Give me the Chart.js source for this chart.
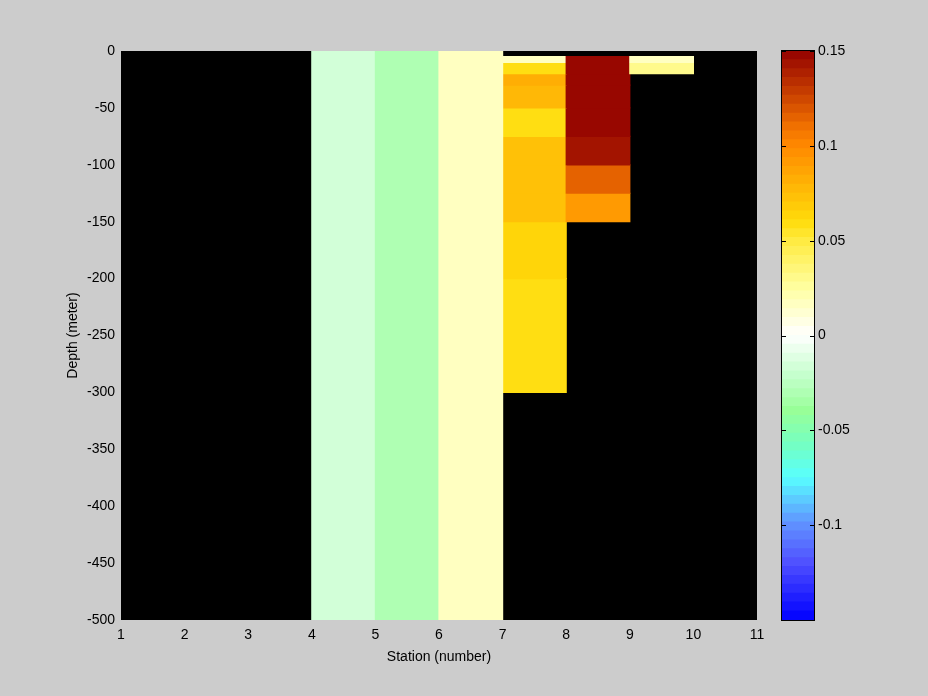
<!DOCTYPE html>
<html lang="en">
<head>
  <meta charset="UTF-8" />
  <title>Station depth section</title>
  <script src="https://cdn.jsdelivr.net/npm/chart.js@4.4.0/dist/chart.umd.min.js"></script>
  <style>
    html, body { margin: 0; padding: 0; background: #cccccc; }
    #wrap { position: relative; width: 928px; height: 696px; overflow: hidden; }
    #main { position: absolute; left: 0; top: 0; }
    #cbar { position: absolute; left: 770px; top: 0; }
  </style>
</head>
<body>
  <div id="wrap">
    <canvas id="main" width="928" height="696"></canvas>
    <canvas id="cbar" width="158" height="696"></canvas>
  </div>

  <script>
    // --- data ---------------------------------------------------------
    const stationTicks = [1, 2, 3, 4, 5, 6, 7, 8, 9, 10, 11];
    const columns = ['1-2', '2-3', '3-4', '4-5', '5-6', '6-7', '7-8', '8-9', '9-10', '10-11'];

    // depth layers in meters (positive down)
    const layerTop    = [0,   5,  10, 20, 30, 50, 75,  100, 125, 150, 200];
    const layerBottom = [500, 10, 20, 30, 50, 75, 100, 125, 150, 200, 300];

    // value per column for each layer (null = no data)
    const layer0to500   = [null, null, null, -0.015, -0.032, 0.017, null, null, null, null];
    const layer5to10    = [null, null, null, null, null, null, 0.015, 0.148, 0.015, null];
    const layer10to20   = [null, null, null, null, null, null, 0.057, 0.148, 0.031, null];
    const layer20to30   = [null, null, null, null, null, null, 0.082, 0.148, null, null];
    const layer30to50   = [null, null, null, null, null, null, 0.078, 0.148, null, null];
    const layer50to75   = [null, null, null, null, null, null, 0.057, 0.148, null, null];
    const layer75to100  = [null, null, null, null, null, null, 0.073, 0.142, null, null];
    const layer100to125 = [null, null, null, null, null, null, 0.073, 0.115, null, null];
    const layer125to150 = [null, null, null, null, null, null, 0.073, 0.090, null, null];
    const layer150to200 = [null, null, null, null, null, null, 0.064, null, null, null];
    const layer200to300 = [null, null, null, null, null, null, 0.059, null, null, null];
    const layers = [layer0to500, layer5to10, layer10to20, layer20to30, layer30to50, layer50to75,
                    layer75to100, layer100to125, layer125to150, layer150to200, layer200to300];

    // colour scale
    const cmin = -0.15, cmax = 0.15, nLevels = 64;
    const colorbarTicks = [-0.1, -0.05, 0, 0.05, 0.1, 0.15];
    const cmapValues = [-0.15, -0.12, -0.10, -0.075, -0.06, -0.04, -0.02, 0, 0.025, 0.05, 0.06, 0.10, 0.11, 0.15];
    const cmapColors = [[0, 0, 255], [80, 80, 255], [96, 144, 255], [88, 255, 255], [112, 255, 200],
                        [152, 255, 152], [200, 255, 208], [255, 255, 255], [255, 255, 160], [255, 234, 64],
                        [255, 220, 10], [255, 136, 0], [240, 112, 0], [146, 0, 0]];

    // --- colour helpers -------------------------------------------------
    function interpColor(v) {
      let i = 0;
      while (i < cmapValues.length - 2 && v > cmapValues[i + 1]) i++;
      const t = Math.min(1, Math.max(0, (v - cmapValues[i]) / (cmapValues[i + 1] - cmapValues[i])));
      const a = cmapColors[i], b = cmapColors[i + 1];
      const c = a.map((x, k) => Math.round(x + (b[k] - x) * t));
      return `rgb(${c[0]},${c[1]},${c[2]})`;
    }
    const step = (cmax - cmin) / nLevels;
    function levelOf(v) {
      return Math.min(nLevels - 1, Math.max(0, Math.floor((v - cmin) / step)));
    }
    function colorFor(v) {
      return interpColor(cmin + (levelOf(v) + 0.5) * step);
    }

    Chart.defaults.font.family = '"Liberation Sans", Arial, sans-serif';
    Chart.defaults.font.size = 14;
    Chart.defaults.color = '#000';

    const plotBg = {
      id: 'plotBg',
      beforeDatasetsDraw(chart) {
        const { ctx, chartArea: a } = chart;
        ctx.save();
        ctx.fillStyle = '#000';
        ctx.fillRect(a.left, a.top, a.width, a.height);
        ctx.restore();
      }
    };

    const barStyle = {
      grouped: false,
      barPercentage: 1,
      categoryPercentage: 1,
      inflateAmount: 0.6,
      borderWidth: 0
    };

    // --- main section plot ---------------------------------------------
    new Chart(document.getElementById('main'), {
      type: 'bar',
      data: {
        labels: columns,
        datasets: layers.map((vals, i) => ({
          ...barStyle,
          label: `${layerTop[i]}-${layerBottom[i]} m`,
          data: vals.map(v => v === null ? null : [-layerTop[i], -layerBottom[i]]),
          backgroundColor: vals.map(v => v === null ? 'rgba(0,0,0,0)' : colorFor(v)),
          xAxisID: 'x',
          yAxisID: 'y'
        }))
      },
      options: {
        responsive: false,
        animation: false,
        layout: { padding: { left: 50, top: 51, right: 171, bottom: 0 } },
        plugins: { legend: { display: false }, tooltip: { enabled: false } },
        scales: {
          x: { type: 'category', display: false, offset: true },
          x2: {
            type: 'linear',
            position: 'bottom',
            offset: false,
            min: stationTicks[0],
            max: stationTicks[stationTicks.length - 1],
            ticks: { stepSize: 1, padding: 7 },
            grid: { display: false, drawTicks: false, offset: false },
            border: { display: false },
            title: { display: true, text: 'Station (number)', padding: { top: 0, bottom: 30.6 } },
            afterFit(s) { s.height = 76; }
          },
          y: {
            type: 'linear',
            min: -500,
            max: 0,
            ticks: { stepSize: 50, padding: 6 },
            grid: { display: false, drawTicks: false },
            border: { display: false },
            title: { display: true, text: 'Depth (meter)', padding: { top: 14.6, bottom: 0 } },
            afterFit(s) { s.width = 71; }
          }
        }
      },
      plugins: [plotBg]
    });

    // --- colour bar ------------------------------------------------------
    const cbarFrame = {
      id: 'cbarFrame',
      afterDatasetsDraw(chart) {
        const { ctx, chartArea: a } = chart;
        const y = chart.scales.y;
        ctx.save();
        ctx.strokeStyle = '#000';
        ctx.lineWidth = 1;
        ctx.strokeRect(a.left - 0.5, a.top - 0.5, a.width + 1, a.height + 1);
        ctx.beginPath();
        colorbarTicks.forEach(v => {
          const py = Math.round(y.getPixelForValue(v)) + 0.5;
          ctx.moveTo(a.left, py); ctx.lineTo(a.left + 4, py);
          ctx.moveTo(a.right - 4, py); ctx.lineTo(a.right, py);
        });
        ctx.stroke();
        ctx.restore();
      }
    };

    const levels = Array.from({ length: nLevels }, (_, k) => k);
    new Chart(document.getElementById('cbar'), {
      type: 'bar',
      data: {
        labels: [''],
        datasets: levels.map(k => ({
          ...barStyle,
          data: [[cmin + k * step, cmin + (k + 1) * step]],
          backgroundColor: interpColor(cmin + (k + 0.5) * step)
        }))
      },
      options: {
        responsive: false,
        animation: false,
        layout: { padding: { left: 12, top: 51, right: 0, bottom: 76 } },
        plugins: { legend: { display: false }, tooltip: { enabled: false } },
        scales: {
          x: { display: false, offset: true },
          y: {
            position: 'right',
            min: cmin,
            max: cmax,
            afterBuildTicks(s) { s.ticks = colorbarTicks.map(v => ({ value: v })); },
            ticks: {
              padding: 4,
              callback: v => String(Math.round(v * 100) / 100)
            },
            grid: { display: false, drawTicks: false },
            border: { display: false },
            afterFit(s) { s.width = 114; }
          }
        }
      },
      plugins: [cbarFrame]
    });
  </script>
</body>
</html>
